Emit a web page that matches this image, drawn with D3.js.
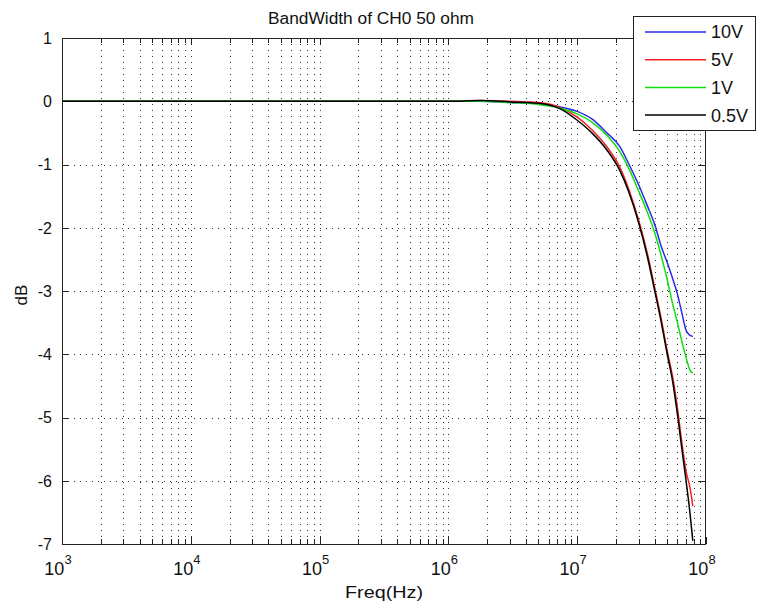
<!DOCTYPE html>
<html><head><meta charset="utf-8">
<script src="https://cdn.jsdelivr.net/npm/d3@7/dist/d3.min.js"></script>
<style>body{margin:0;background:#fff}svg{display:block;font-family:"Liberation Sans",Arial,sans-serif}</style>
</head><body><svg id="c" width="757" height="608"></svg>
<script>
const freq = [1e3, 1e4, 1e5, 1e6, 1.8e6, 3e6, 5e6, 7.4e6, 1e7, 1.3e7, 1.7e7, 2.15e7, 2.5e7, 3e7, 3.5e7, 4e7, 4.5e7, 5e7, 5.5e7, 6e7, 6.5e7, 7e7, 7.5e7, 7.9e7];
const v10  = [0, 0, 0, 0, 0, -0.02, -0.04, -0.09, -0.16, -0.28, -0.5, -0.72, -0.98, -1.32, -1.65, -1.95, -2.3, -2.55, -2.8, -3.05, -3.35, -3.62, -3.7, -3.72];
const v5   = [0, 0, 0, 0, 0.01, 0, -0.02, -0.1, -0.25, -0.45, -0.72, -1.05, -1.38, -1.88, -2.4, -2.95, -3.45, -3.95, -4.35, -4.85, -5.4, -5.85, -6.1, -6.4];
const v1   = [0, 0, 0, 0, 0, -0.02, -0.05, -0.11, -0.2, -0.33, -0.54, -0.8, -1.05, -1.42, -1.75, -2.08, -2.45, -2.82, -3.2, -3.5, -3.8, -4.05, -4.25, -4.3];
const v05  = [0, 0, 0, 0, 0.01, -0.01, -0.03, -0.12, -0.3, -0.5, -0.77, -1.1, -1.42, -1.92, -2.45, -3.0, -3.5, -4.0, -4.42, -4.95, -5.5, -6.0, -6.5, -6.95];
const seriesNames = ["10V", "5V", "1V", "0.5V"];
const seriesColors = ["#2a2ae6", "#f02020", "#10dd10", "#000000"];
const seriesVals = [v10, v5, v1, v05];
const yTicks = [1, 0, -1, -2, -3, -4, -5, -6, -7];
const xMajorExp = [3, 4, 5, 6, 7, 8];
const title = "BandWidth of CH0 50 ohm";
const xLabel = "Freq(Hz)";
const yLabel = "dB";

const L = 62, R = 706, T = 38, B = 544;
const svg = d3.select("#c");
const x = d3.scaleLog().domain([1e3, 1e8]).range([L, R]);
const y = d3.scaleLinear().domain([-7, 1]).range([B, T]);

const xAll = [];
for (let e = 3; e < 8; e++) for (let m = 1; m < 10; m++) xAll.push(m * Math.pow(10, e));
xAll.push(1e8);

const grid = svg.append("g").attr("stroke", "#333").attr("stroke-width", 1).attr("stroke-dasharray", "1,5");
xAll.filter(f => f > 1e3 && f < 1e8).forEach(f => {
  grid.append("line").attr("x1", Math.round(x(f)) + 0.5).attr("x2", Math.round(x(f)) + 0.5).attr("y1", T).attr("y2", B);
});
yTicks.filter(t => t < 1 && t > -7).forEach(t => {
  grid.append("line").attr("x1", L).attr("x2", R).attr("y1", Math.round(y(t)) + 0.5).attr("y2", Math.round(y(t)) + 0.5);
});

const tk = svg.append("g").attr("stroke", "#222").attr("stroke-width", 1);
xAll.forEach(f => {
  const major = Math.abs(Math.log10(f) - Math.round(Math.log10(f))) < 1e-9;
  const len = major ? 7 : 5;
  const px = Math.round(x(f)) + 0.5;
  tk.append("line").attr("x1", px).attr("x2", px).attr("y1", B).attr("y2", B - len);
  tk.append("line").attr("x1", px).attr("x2", px).attr("y1", T).attr("y2", T + len);
});
yTicks.forEach(t => {
  const py = Math.round(y(t)) + 0.5;
  tk.append("line").attr("x1", L).attr("x2", L + 7).attr("y1", py).attr("y2", py);
  tk.append("line").attr("x1", R).attr("x2", R - 7).attr("y1", py).attr("y2", py);
});

const line = d3.line().x((d, i) => x(freq[i])).y(d => y(d)).curve(d3.curveMonotoneX);
seriesVals.forEach((vals, k) => {
  svg.append("path").datum(vals).attr("d", line).attr("fill", "none")
    .attr("stroke", seriesColors[k]).attr("stroke-width", 1.5);
});

svg.append("rect").attr("x", L + 0.5).attr("y", T + 0.5).attr("width", R - L - 1).attr("height", B - T)
  .attr("fill", "none").attr("stroke", "#222").attr("stroke-width", 1);

svg.append("g").selectAll("text").data(yTicks).join("text")
  .attr("x", L - 10).attr("y", d => y(d)).attr("dy", "0.36em")
  .attr("text-anchor", "end").attr("font-size", 16).attr("fill", "#111").text(d => d);

const xl = svg.append("g");
xMajorExp.forEach(e => {
  const t = xl.append("text").attr("x", x(Math.pow(10, e)) - 4).attr("y", B + 31)
    .attr("text-anchor", "middle").attr("font-size", 18).attr("fill", "#111");
  t.append("tspan").text("10");
  t.append("tspan").attr("dy", -11).attr("font-size", 13).text(e);
});

svg.append("text").attr("x", 371).attr("y", 24).attr("text-anchor", "middle")
  .attr("font-size", 16).attr("fill", "#111")
  .attr("textLength", 206).attr("lengthAdjust", "spacingAndGlyphs").text(title);
svg.append("text").attr("x", 384).attr("y", 598).attr("text-anchor", "middle")
  .attr("font-size", 17).attr("fill", "#111")
  .attr("textLength", 78).attr("lengthAdjust", "spacingAndGlyphs").text(xLabel);
svg.append("text").attr("transform", "translate(27,295) rotate(-90)").attr("text-anchor", "middle")
  .attr("font-size", 17).attr("fill", "#111").text(yLabel);

const lg = svg.append("g");
lg.append("rect").attr("x", 633.5).attr("y", 16.5).attr("width", 122).attr("height", 114)
  .attr("fill", "#fff").attr("stroke", "#222").attr("stroke-width", 1);
seriesNames.forEach((n, k) => {
  const yy = 32 + k * 27.7;
  lg.append("line").attr("x1", 645).attr("x2", 706).attr("y1", yy).attr("y2", yy)
    .attr("stroke", seriesColors[k]).attr("stroke-width", 1.5);
  lg.append("text").attr("x", 711).attr("y", yy).attr("dy", "0.36em")
    .attr("font-size", 18).attr("fill", "#111").text(n);
});
</script></body></html>
